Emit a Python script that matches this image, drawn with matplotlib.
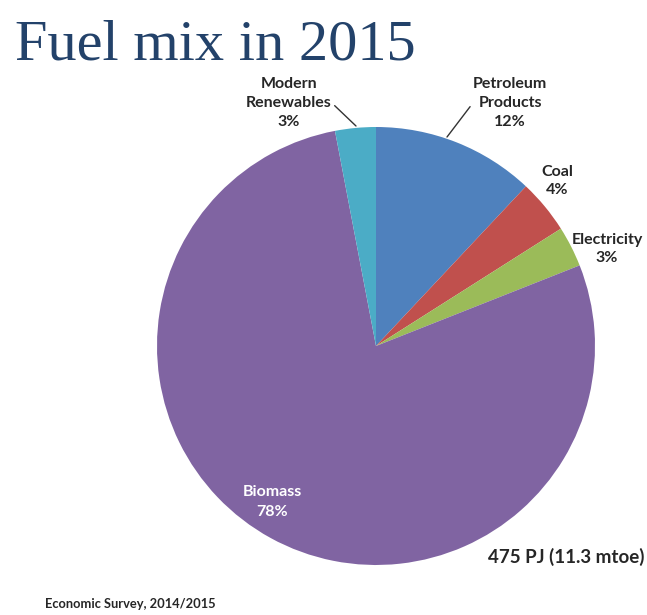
import matplotlib.pyplot as plt

labels = ['Petroleum\nProducts', 'Coal', 'Electricity', 'Biomass', 'Modern\nRenewables']
shares = [12, 4, 3, 78, 3]
colors = ['#4F81BD', '#C0504D', '#9BBB59', '#8064A2', '#4BACC6']

W, H = 647, 615
cx, cy, r = 376, 346, 219


def d(px, py):
    # pixel position -> data coords of the pie axes
    return (px - cx) / r, (cy - py) / r


fig = plt.figure(figsize=(W / 100, H / 100), dpi=100)
fig.patch.set_facecolor('white')
ax = fig.add_axes([(cx - r) / W, (H - cy - r) / H, 2 * r / W, 2 * r / H])
ax.pie(shares, colors=colors, startangle=90, counterclock=False, radius=1,
       wedgeprops=dict(linewidth=0))
ax.set_xlim(-1, 1)
ax.set_ylim(-1, 1)
ax.set_aspect('equal', adjustable='datalim')
ax.axis('off')

lab_font = dict(family='Lato', fontweight='bold', fontsize=11.5, color='#262626',
                ha='center', va='center', linespacing=1.45)

texts = [f'{l}\n{s}%' for l, s in zip(labels, shares)]

# petroleum products
ax.annotate(texts[0], xy=d(447, 137), xytext=d(510, 103), textcoords='data',
            arrowprops=dict(arrowstyle='-', color='#333333', lw=1,
                            shrinkA=0, shrinkB=0, relpos=(0.0, 0.5)),
            annotation_clip=False, **lab_font)
# coal
ax.text(*d(557, 181), texts[1], **dict(lab_font, linespacing=1.3))
# electricity
ax.text(*d(607, 249), texts[2], **dict(lab_font, linespacing=1.3))
# biomass
ax.text(*d(272, 502), texts[3], **dict(lab_font, color='white', linespacing=1.5))
# modern renewables
ax.annotate(texts[4], xy=d(356, 126), xytext=d(289, 103), textcoords='data',
            arrowprops=dict(arrowstyle='-', color='#333333', lw=1,
                            shrinkA=0, shrinkB=0, relpos=(1.0, 0.5)),
            annotation_clip=False, **lab_font)

fig.text(15 / W, 1 - 45 / H, 'Fuel mix in 2015', family='Liberation Serif',
         fontsize=42, color='#23426A', ha='left', va='center')
fig.text(566 / W, 1 - 557 / H, '475 PJ (11.3 mtoe)', family='Lato',
         fontsize=13.5, fontweight='bold', color='#262626', ha='center', va='center')
fig.text(45 / W, 1 - 604 / H, 'Economic Survey, 2014/2015', family='Lato',
         fontsize=9.3, fontweight='bold', color='#262626', ha='left', va='center')

fig.savefig('out.png', dpi=100)
